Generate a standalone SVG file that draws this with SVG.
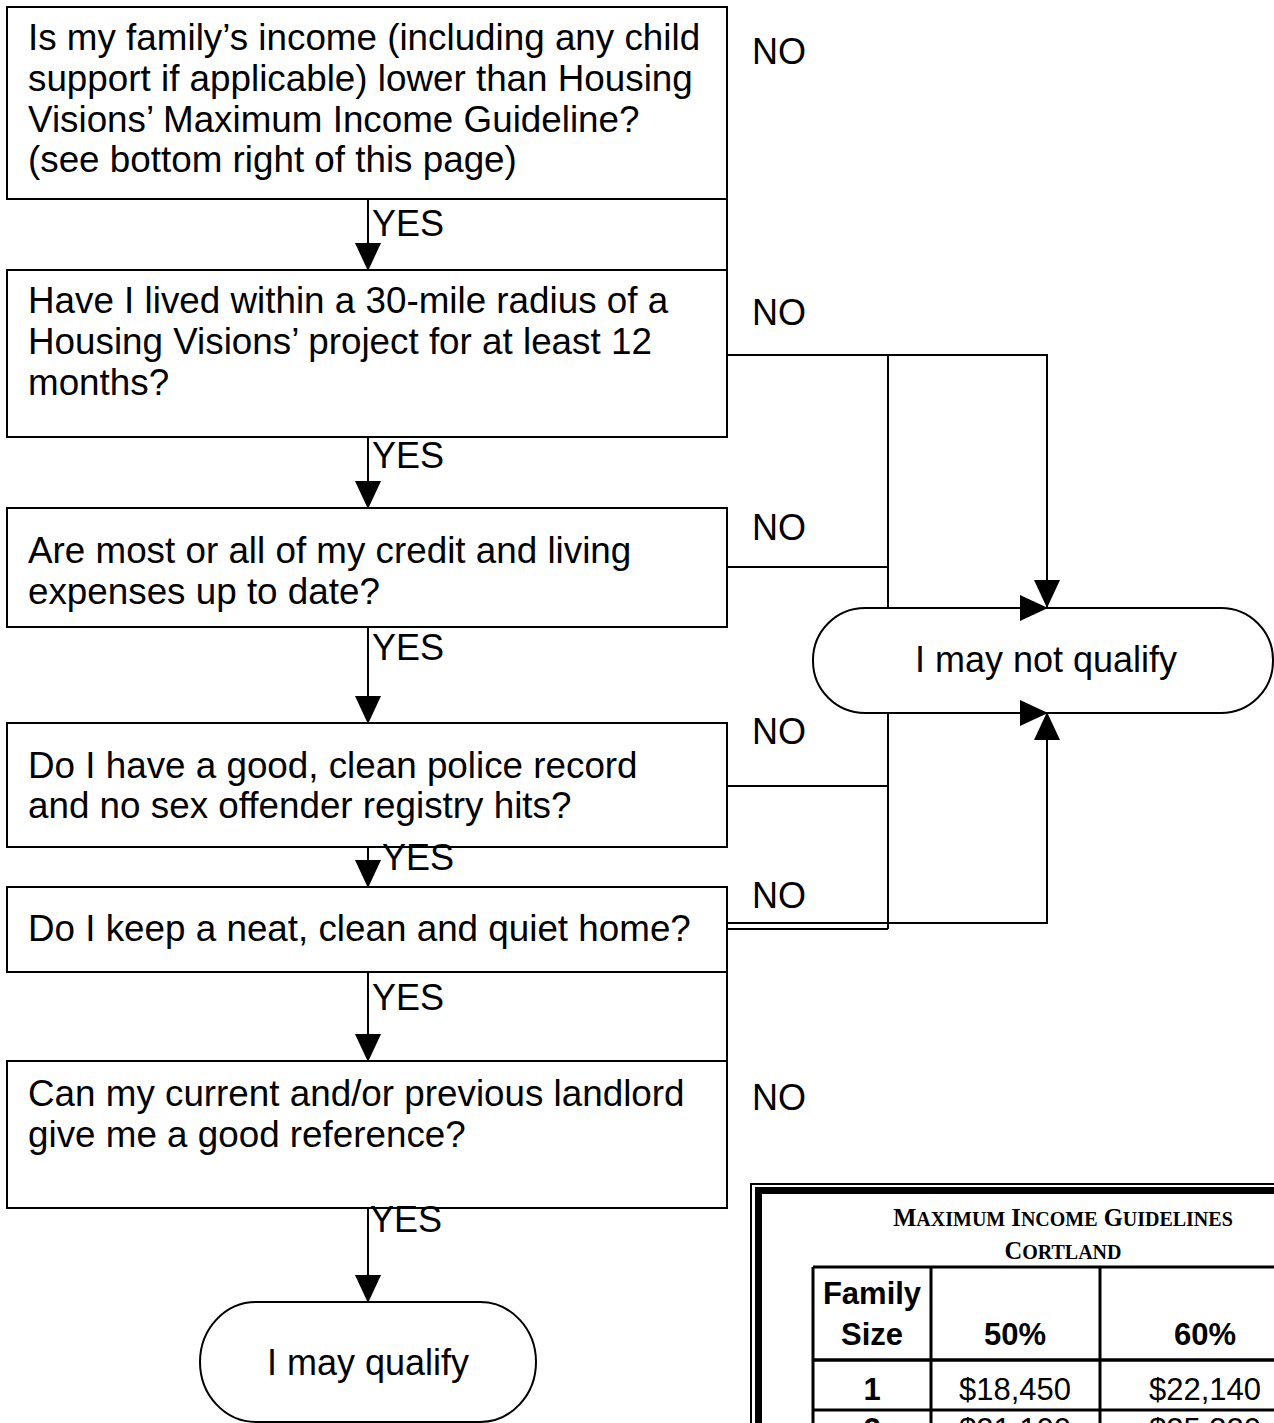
<svg xmlns="http://www.w3.org/2000/svg" width="1274" height="1423" viewBox="0 0 1274 1423">
<style>
.box{fill:#fff;stroke:#000;stroke-width:2}
.t{font-family:'Liberation Sans',Arial,sans-serif;font-size:36px;fill:#000}
.q{font-size:36.8px}
.c{text-anchor:middle}
.ln{fill:none;stroke:#000;stroke-width:2}
.arr{marker-end:url(#ah)}
.grid{stroke:#000;stroke-width:3;fill:none}
.tt{font-family:'Liberation Serif','Times New Roman',serif;font-weight:bold;fill:#000;text-anchor:middle}
.th{font-family:'Liberation Sans',Arial,sans-serif;font-size:31px;font-weight:bold;text-anchor:middle}
.td{font-family:'Liberation Sans',Arial,sans-serif;font-size:31px;text-anchor:middle}
</style>
<defs>
<marker id="ah" markerWidth="28" markerHeight="26" refX="27" refY="13" orient="auto" markerUnits="userSpaceOnUse"><path d="M0,0 L28,13 L0,26 Z" fill="#000"/></marker>
</defs>
<rect width="1274" height="1423" fill="#fff"/>

<g id="q1">
<rect class="box" x="7" y="7" width="720" height="192"/>
<text class="t q" x="28" y="50">Is my family’s income (including any child</text>
<text class="t q" x="28" y="91">support if applicable) lower than Housing</text>
<text class="t q" x="28" y="132">Visions’ Maximum Income Guideline?</text>
<text class="t q" x="28" y="172">(see bottom right of this page)</text>
</g>

<g id="q2">
<rect class="box" x="7" y="270" width="720" height="167"/>
<text class="t q" x="28" y="313">Have I lived within a 30-mile radius of a</text>
<text class="t q" x="28" y="354">Housing Visions’ project for at least 12</text>
<text class="t q" x="28" y="395">months?</text>
</g>

<g id="q3">
<rect class="box" x="7" y="508" width="720" height="119"/>
<text class="t q" x="28" y="563">Are most or all of my credit and living</text>
<text class="t q" x="28" y="604">expenses up to date?</text>
</g>

<g id="q4">
<rect class="box" x="7" y="723" width="720" height="124"/>
<text class="t q" x="28" y="778">Do I have a good, clean police record</text>
<text class="t q" x="28" y="818">and no sex offender registry hits?</text>
</g>

<g id="q5">
<rect class="box" x="7" y="887" width="720" height="85"/>
<text class="t q" x="28" y="941">Do I keep a neat, clean and quiet home?</text>
</g>

<g id="q6">
<rect class="box" x="7" y="1061" width="720" height="147"/>
<text class="t q" x="28" y="1106">Can my current and/or previous landlord</text>
<text class="t q" x="28" y="1147">give me a good reference?</text>
</g>

<g id="not-qualify">
<rect class="box" x="813" y="608" width="460" height="105" rx="52" ry="52"/>
<text class="t c" x="1046" y="672">I may not qualify</text>
</g>

<g id="qualify">
<rect class="box" x="200" y="1302" width="336" height="120" rx="56" ry="60"/>
<text class="t c" x="368" y="1375">I may qualify</text>
</g>

<g id="income-table">
<rect x="751" y="1184" width="700" height="400" fill="none" stroke="#000" stroke-width="2"/>
<rect x="758.5" y="1190.5" width="700" height="400" fill="none" stroke="#000" stroke-width="7"/>
<text class="tt" x="1063" y="1226"><tspan font-size="24.5">M</tspan><tspan font-size="20">AXIMUM</tspan><tspan font-size="24.5"> I</tspan><tspan font-size="20">NCOME</tspan><tspan font-size="24.5"> G</tspan><tspan font-size="20">UIDELINES</tspan></text>
<text class="tt" x="1063" y="1259"><tspan font-size="24.5">C</tspan><tspan font-size="20">ORTLAND</tspan></text>
<path class="grid" d="M813,1267 H1310 M813,1410 H1310 M813,1267 V1430 M931,1267 V1430 M1100,1267 V1430 M1310,1267 V1430"/>
<path d="M813,1360 H1310" stroke="#000" stroke-width="3.5"/>
<text class="th" x="872" y="1304">Family</text>
<text class="th" x="872" y="1345">Size</text>
<text class="th" x="1015" y="1345">50%</text>
<text class="th" x="1205" y="1345">60%</text>
<text class="th" x="872" y="1400">1</text>
<text class="td" x="1015" y="1400">$18,450</text>
<text class="td" x="1205" y="1400">$22,140</text>
<text class="th" x="872" y="1440">2</text>
<text class="td" x="1015" y="1440">$21,100</text>
<text class="td" x="1205" y="1440">$25,320</text>
</g>

<g id="connectors">
<path class="ln arr" d="M368,199 V270"/>
<path class="ln arr" d="M368,437 V508"/>
<path class="ln arr" d="M368,627 V723"/>
<path class="ln arr" d="M368,847 V887"/>
<path class="ln arr" d="M368,972 V1061"/>
<path class="ln arr" d="M368,1208 V1302"/>
<path class="ln" d="M727,199 V270"/>
<path class="ln arr" d="M727,355 H1047 V607"/>
<path class="ln arr" d="M888,355 V608 H1047"/>
<path class="ln" d="M727,567 H888"/>
<path class="ln" d="M727,786 H888"/>
<path class="ln arr" d="M888,929 V713 H1047"/>
<path class="ln arr" d="M727,923 H1047 V713"/>
<path class="ln" d="M727,929 H888"/>
<path class="ln" d="M727,972 V1061"/>
<text class="t" x="372" y="236">YES</text>
<text class="t" x="372" y="468">YES</text>
<text class="t" x="372" y="660">YES</text>
<text class="t" x="382" y="870">YES</text>
<text class="t" x="372" y="1010">YES</text>
<text class="t" x="370" y="1232">YES</text>
<text class="t" x="752" y="64">NO</text>
<text class="t" x="752" y="325">NO</text>
<text class="t" x="752" y="540">NO</text>
<text class="t" x="752" y="744">NO</text>
<text class="t" x="752" y="908">NO</text>
<text class="t" x="752" y="1110">NO</text>
</g>
</svg>
